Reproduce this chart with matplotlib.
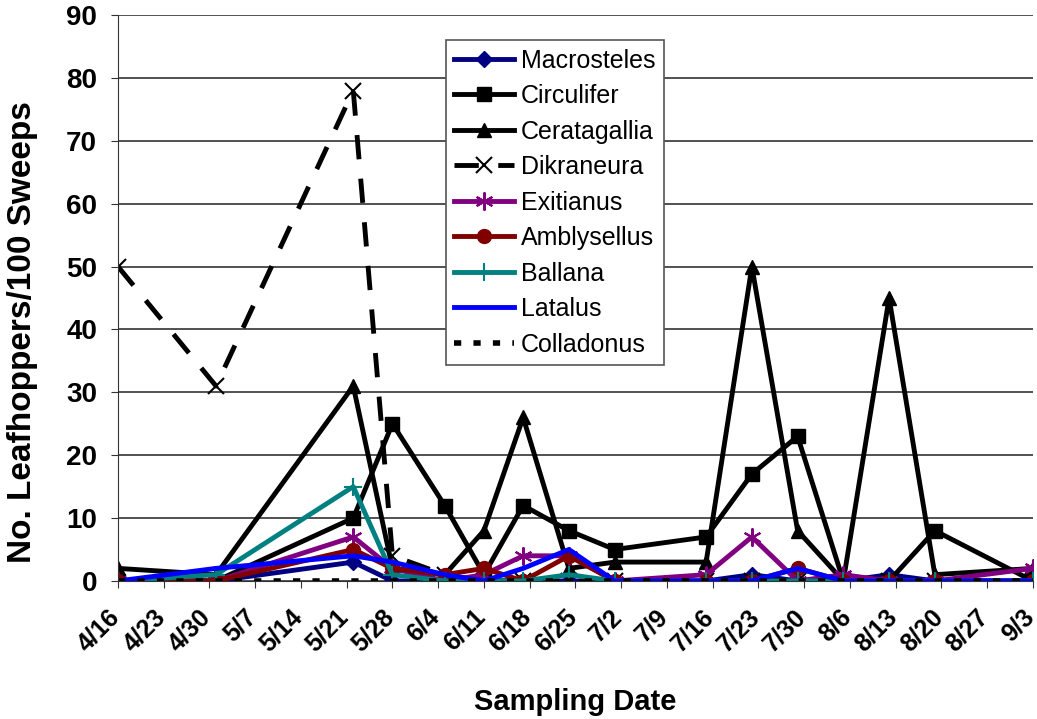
import pandas as pd
import matplotlib
matplotlib.use('Agg')
import matplotlib.pyplot as plt
from matplotlib.transforms import ScaledTranslation

plt.rcParams['font.family'] = ['Liberation Sans', 'DejaVu Sans']

# sampling dates (2001 season) and weekly tick labels
sample_dates = ['4/16', '5/1', '5/22', '5/28', '6/5', '6/11', '6/17', '6/24',
                '7/1', '7/15', '7/22', '7/29', '8/5', '8/12', '8/19', '9/3']
tick_dates = ['4/16', '4/23', '4/30', '5/7', '5/14', '5/21', '5/28', '6/4',
              '6/11', '6/18', '6/25', '7/2', '7/9', '7/16', '7/23', '7/30',
              '8/6', '8/13', '8/20', '8/27', '9/3']

# leafhoppers per 100 sweeps
macrosteles = [0, 0, 3, 0, 0, 0, 0, 0, 0, 0, 1, 0, 0, 1, 0, 0]
circulifer = [0, 0, 10, 25, 12, 1, 12, 8, 5, 7, 17, 23, 0, 0, 8, 0]
ceratagallia = [2, 1, 31, 2, 1, 8, 26, 2, 3, 3, 50, 8, 0, 45, 1, 2]
dikraneura = [50, 31, 78, 4, 1, 0, 0, 0, 0, 0, 0, 0, 0, 0, 0, 0]
exitianus = [0, 0, 7, 2, 0, 1, 4, 4, 0, 1, 7, 0, 1, 0, 0, 2]
amblysellus = [0, 0, 5, 2, 1, 2, 0, 4, 0, 0, 0, 2, 0, 0, 0, 0]
ballana = [0, 1, 15, 1, 0, 0, 0, 1, 0, 0, 0, 0, 0, 0, 0, 0]
latalus = [0, 2, 4, 3, 1, 0, 2, 5, 0, 0, 0, 2, 0, 0, 0, 0]
colladonus = [0, 0, 0, 0, 0, 0, 0, 0, 0, 0, 0, 0, 0, 0, 0, 0]

start = pd.Timestamp('2001/4/16')
x = [(pd.Timestamp('2001/' + d) - start).days for d in sample_dates]
xt = [(pd.Timestamp('2001/' + d) - start).days for d in tick_dates]

fig = plt.figure(figsize=(10.37, 7.19), dpi=100)
ax = fig.add_axes([0.1138, 0.192, 0.8822, 0.787])

lw = 3.5
ax.plot(x, macrosteles, color='#000080', lw=lw, marker='D', ms=8, label='Macrosteles')
ax.plot(x, circulifer, color='black', lw=lw, marker='s', ms=10, label='Circulifer')
ax.plot(x, ceratagallia, color='black', lw=lw, marker='^', ms=10, label='Ceratagallia')
ax.plot(x, dikraneura, color='black', lw=lw, marker='x', ms=11, mew=1.5,
        dashes=(5, 4), label='Dikraneura')
ax.plot(x, exitianus, color='#800080', lw=lw, marker=(6, 2, 0), ms=13, mew=1.5, label='Exitianus')
ax.plot(x, amblysellus, color='#800000', lw=lw, marker='o', ms=10, label='Amblysellus')
ax.plot(x, ballana, color='#008080', lw=lw, marker='+', ms=13, mew=1.5, label='Ballana')
ax.plot(x, latalus, color='#0000FF', lw=lw, label='Latalus')
ax.plot(x, colladonus, color='black', lw=lw + 0.5, dashes=(1.3, 2.2), label='Colladonus')

ax.set_xlim(0, 140)
ax.set_ylim(0, 90)
ax.set_yticks(range(0, 91, 10))
ax.set_xticks(xt)
ax.set_xticklabels(tick_dates, rotation=45, ha='right', va='top', rotation_mode='anchor')
ax.tick_params(axis='both', direction='out', length=5, color='#333333')
ax.tick_params(axis='x', labelsize=18, pad=12)
ax.tick_params(axis='y', labelsize=20, pad=10)
shift = ScaledTranslation(-11 / 100, 0, fig.dpi_scale_trans)
for lab in ax.get_xticklabels():
    lab.set_fontweight('bold')
    lab.set_transform(lab.get_transform() + shift)
for lab in ax.get_yticklabels():
    lab.set_fontweight('bold')
ax.grid(axis='y', color='#333333', lw=1.2)
ax.set_axisbelow(True)
ax.spines['top'].set_visible(False)
ax.spines['right'].set_visible(False)
ax.spines['left'].set_color('#333333')
ax.spines['bottom'].set_color('#333333')

ax.set_ylabel('No. Leafhoppers/100 Sweeps', fontsize=24, fontweight='bold')
ax.yaxis.set_label_coords(-0.088, 0.44)
ax.set_xlabel('Sampling Date', fontsize=21, fontweight='bold', labelpad=23)

leg = ax.legend(loc='upper left', bbox_to_anchor=(0.358, 0.956), borderaxespad=0,
                fontsize=18, frameon=True, fancybox=False, edgecolor='#555555',
                handlelength=2.4, labelspacing=0.46, handletextpad=0.25,
                borderpad=0.35, framealpha=1)
leg.get_frame().set_linewidth(1.2)

fig.savefig('out.png', dpi=100)
